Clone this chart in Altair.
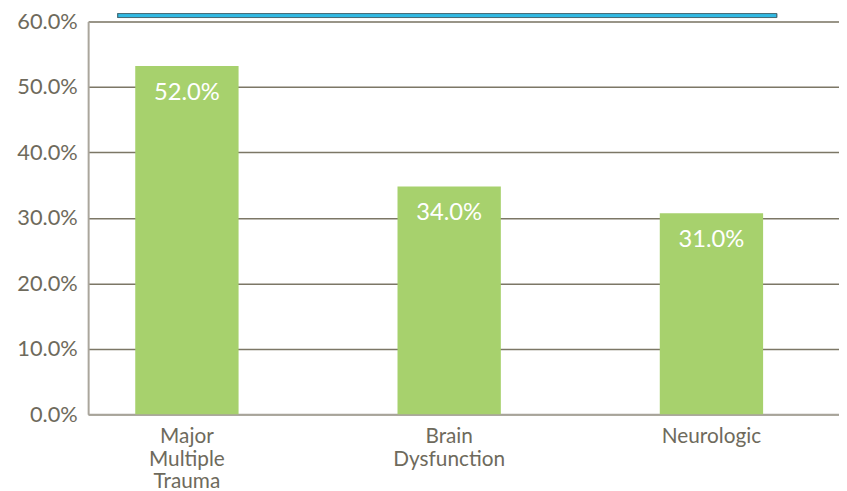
import altair as alt
import pandas as pd

categories = ["Major Multiple Trauma", "Brain Dysfunction", "Neurologic"]
values = [53.2, 34.8, 30.7]
value_labels = ["52.0%", "34.0%", "31.0%"]
y_ticks = [0, 10, 20, 30, 40, 50, 60]

df = pd.DataFrame({"cat": categories, "val": values, "lab": value_labels})

FONT = "Lato"
TXT = "#6e6a5c"

x_enc = alt.X(
    "cat:N",
    sort=categories,
    title=None,
    scale=alt.Scale(paddingInner=0.606, paddingOuter=0.2345, align=0.383),
    axis=alt.Axis(
        labelAngle=0,
        labelExpr="split(datum.value, ' ')",
        labelFont=FONT,
        labelFontSize=21,
        labelColor=TXT,
        labelLineHeight=22.5,
        labelPadding=12,
        labelBaseline="top",
        ticks=False,
        domainColor="#a8a49a",
        domainWidth=2,
        grid=False,
    ),
)

y_enc = alt.Y(
    "val:Q",
    title=None,
    scale=alt.Scale(domain=[0, 60], nice=False),
    axis=alt.Axis(
        values=y_ticks,
        labelExpr="format(datum.value, '.1f') + '%'",
        labelFont=FONT,
        labelFontSize=22,
        labelColor=TXT,
        labelPadding=11,
        ticks=False,
        domainColor="#aaa69c",
        domainWidth=2,
        grid=True,
        gridColor="#7c7766",
        gridWidth=1.5,
    ),
)

bars = alt.Chart(df).mark_bar(color="#a7d16d").encode(x=x_enc, y=y_enc)

labels = alt.Chart(df).mark_text(
    color="white", font=FONT, fontSize=24, baseline="top", dy=15
).encode(x=alt.X("cat:N", sort=categories), y="val:Q", text="lab:N")

banner = alt.Chart(df).mark_rect(
    fill="#31b9e3", stroke="#4a6b75", strokeWidth=1
).encode(
    x=alt.value(30), x2=alt.value(696), y=alt.value(-8), y2=alt.value(-4)
)

chart = (
    alt.layer(banner, bars, labels)
    .properties(width=759, height=397, padding={"top": 0, "left": 8, "right": 0, "bottom": 0})
    .configure_view(stroke=None)
    .configure(background="white")
)

chart.save("out.html", embed_options={"renderer": "svg", "actions": False})
